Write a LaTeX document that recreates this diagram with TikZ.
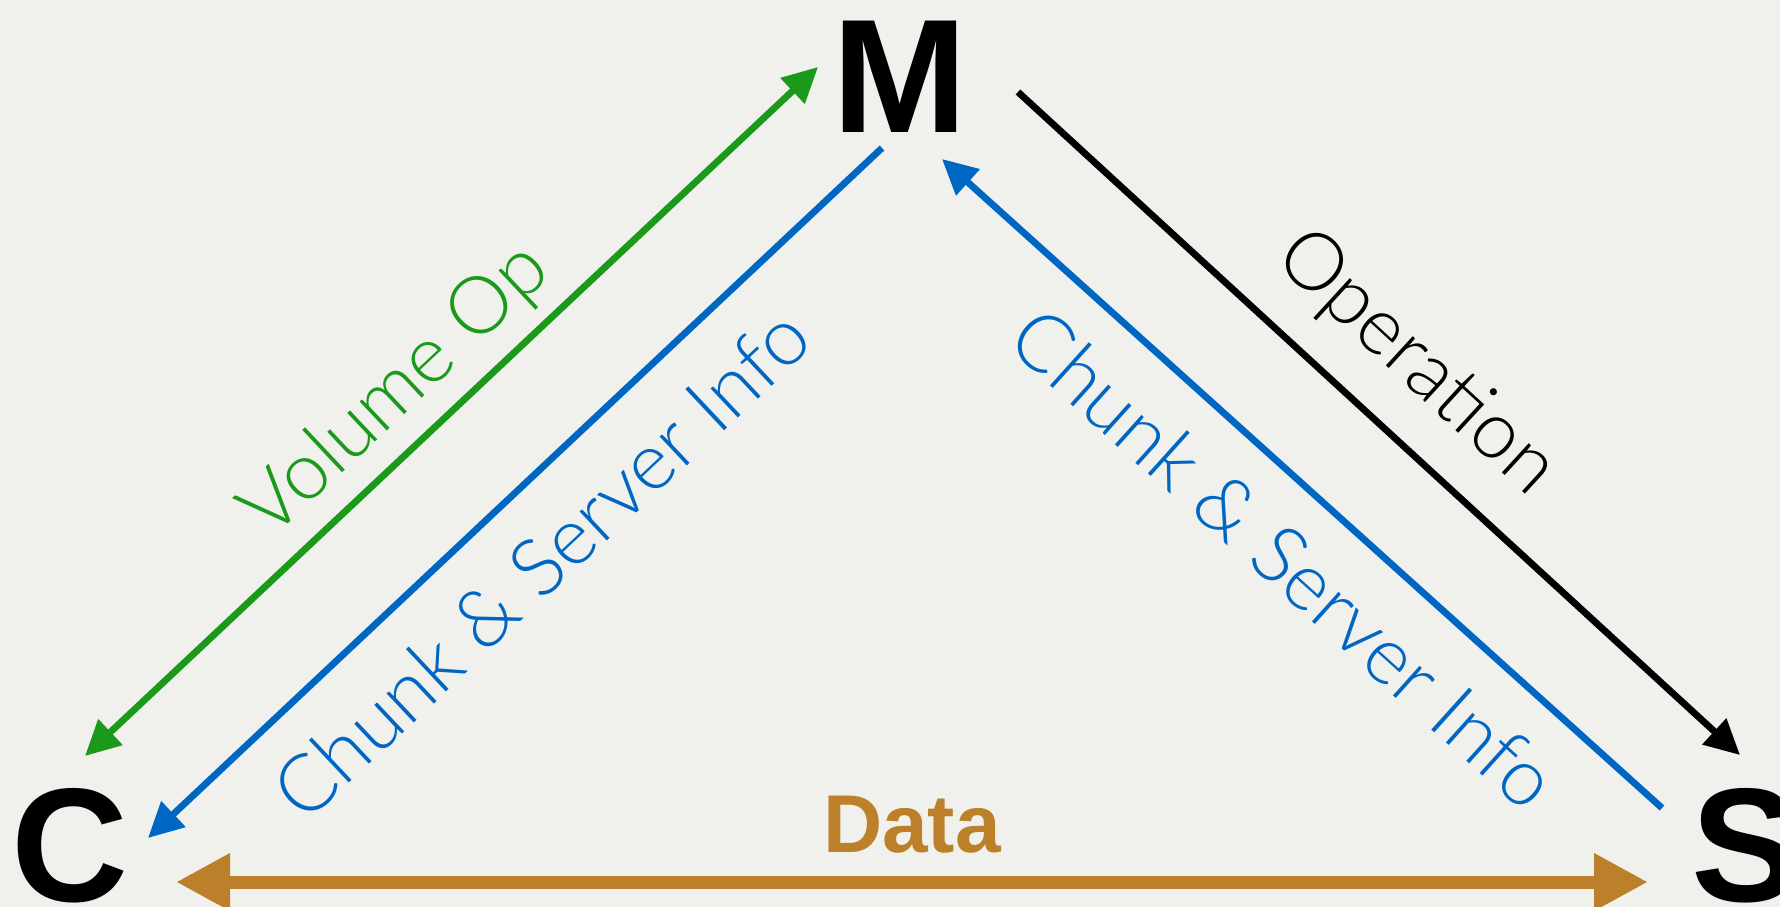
\documentclass[tikz,border=0pt]{standalone}
\usepackage{fontspec}
\setmainfont{Liberation Sans}
\newfontfamily\lightfont{Lato Light}
\usetikzlibrary{arrows.meta}
\definecolor{bgcol}{RGB}{240,241,236}
\definecolor{volgreen}{RGB}{26,153,26}
\definecolor{infoblue}{RGB}{0,102,196}
\definecolor{dataorange}{RGB}{188,128,42}
\tikzset{
  endpoint/.style={font=\bfseries\fontsize{162}{162}\selectfont, inner sep=0pt, anchor=base},
  head/.tip={Triangle[length=35pt,width=34pt]},
  link/.style={line width=6.8pt, -head},
  linklabel/.style={font=\lightfont\fontsize{80}{80}\selectfont, inner sep=0pt, sloped, anchor=base},
}
\begin{document}
\begin{tikzpicture}[x=1pt,y=-1pt]
  \useasboundingbox (0,0) rectangle (1780,907);
  \fill[bgcol] (0,0) rectangle (1780,907);
  \node[endpoint] (M) at (900,132) {M};
  \node[endpoint] (C) at (70,901) {C};
  \node[endpoint] (S) at (1746,901) {S};
  % ends of the links
  \coordinate (vol-c) at (85,756);
  \coordinate (vol-m) at (818,67);
  \coordinate (info-m) at (882,148);
  \coordinate (info-c) at (148,838);
  \coordinate (srv-s) at (1662,808);
  \coordinate (srv-m) at (942,159);
  \coordinate (op-m) at (1018,92);
  \coordinate (op-s) at (1740,755);
  \coordinate (data-c) at (176,882);
  \coordinate (data-s) at (1648,882);
  \draw[link, volgreen, head-head] (vol-c) -- (vol-m)
    node[linklabel, pos=.474, yshift=30pt] {Volume Op};
  \draw[link, infoblue] (info-m) -- (info-c)
    node[linklabel, pos=.529, yshift=-98pt] {Chunk \& Server Info};
  \draw[link, infoblue] (srv-s) -- (srv-m)
    node[linklabel, pos=.462, yshift=-96pt] {Chunk \& Server Info};
  \draw[link, black] (op-m) -- (op-s)
    node[linklabel, pos=.486, yshift=47pt] {Operation};
  \draw[dataorange, line width=13pt, {Triangle[length=54pt,width=54pt]}-{Triangle[length=54pt,width=54pt]}] (data-c) -- (data-s)
    node[midway, anchor=base, inner sep=0pt, yshift=30pt, font=\bfseries\fontsize{82}{82}\selectfont] {Data};
\end{tikzpicture}
\end{document}
